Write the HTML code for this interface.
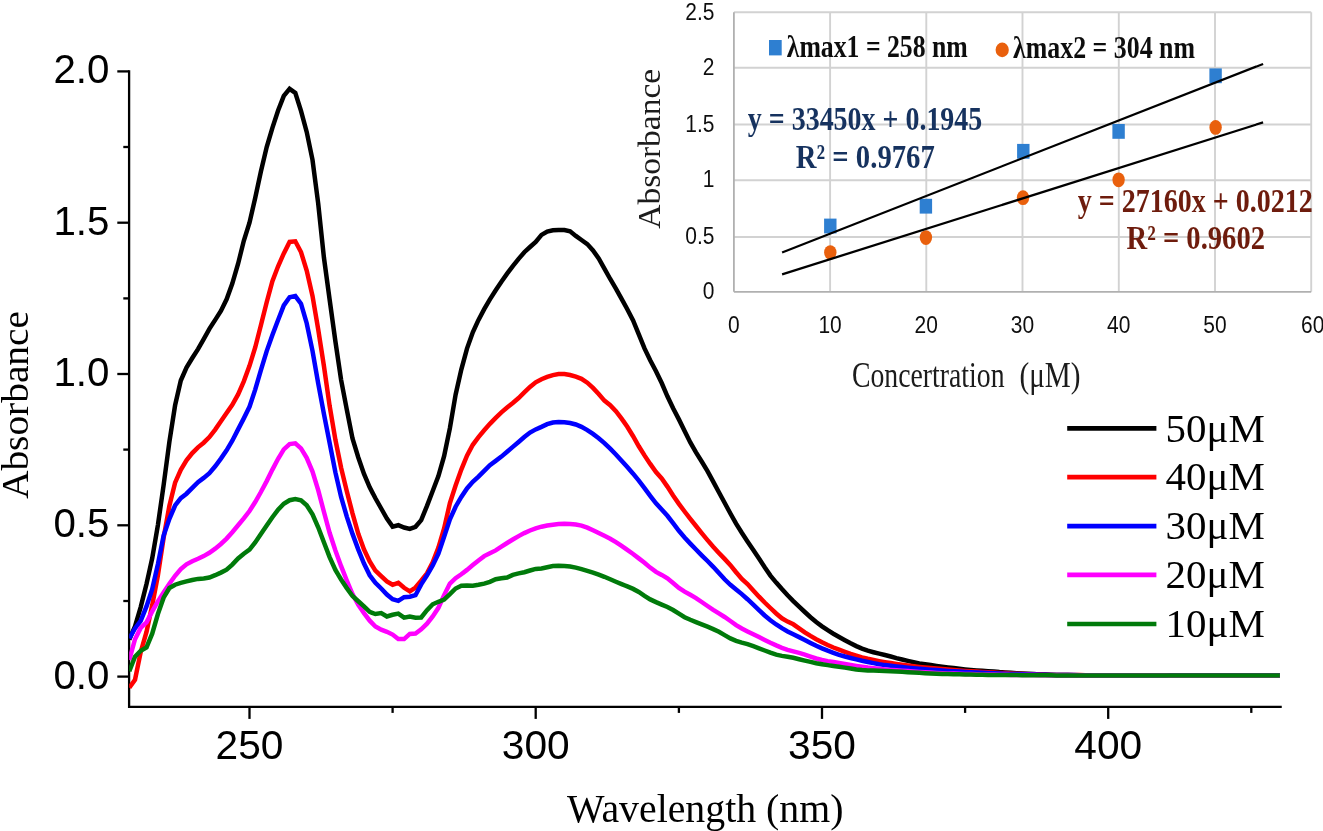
<!DOCTYPE html>
<html><head><meta charset="utf-8"><title>UV-Vis absorbance spectra</title>
<style>
html,body{margin:0;padding:0;background:#fff;}
svg{display:block;}
.sans{font-family:"Liberation Sans",Arial,sans-serif;}
.serif{font-family:"Liberation Serif","Times New Roman",serif;}
</style></head><body>
<svg width="1323" height="831" viewBox="0 0 1323 831">
<rect width="1323" height="831" fill="#fff"/>

<defs><filter id="soft" x="-2%" y="-2%" width="104%" height="104%"><feGaussianBlur stdDeviation="0.55"/></filter></defs>
<g id="inset" filter="url(#soft)">
<line x1="733.9" x2="1311.2" y1="237.0" y2="237.0" stroke="#d2d2d2" stroke-width="1.9"/>
<line x1="733.9" x2="1311.2" y1="180.3" y2="180.3" stroke="#d2d2d2" stroke-width="1.9"/>
<line x1="733.9" x2="1311.2" y1="124.5" y2="124.5" stroke="#d2d2d2" stroke-width="1.9"/>
<line x1="733.9" x2="1311.2" y1="67.7" y2="67.7" stroke="#d2d2d2" stroke-width="1.9"/>
<line x1="733.9" x2="1311.2" y1="12.3" y2="12.3" stroke="#d2d2d2" stroke-width="1.9"/>
<line x1="830.1" x2="830.1" y1="12.3" y2="291.8" stroke="#d2d2d2" stroke-width="1.9"/>
<line x1="926.3" x2="926.3" y1="12.3" y2="291.8" stroke="#d2d2d2" stroke-width="1.9"/>
<line x1="1022.5" x2="1022.5" y1="12.3" y2="291.8" stroke="#d2d2d2" stroke-width="1.9"/>
<line x1="1118.8" x2="1118.8" y1="12.3" y2="291.8" stroke="#d2d2d2" stroke-width="1.9"/>
<line x1="1215.0" x2="1215.0" y1="12.3" y2="291.8" stroke="#d2d2d2" stroke-width="1.9"/>
<line x1="1311.2" x2="1311.2" y1="12.3" y2="291.8" stroke="#d2d2d2" stroke-width="1.9"/>
<line x1="733.9" x2="733.9" y1="12.3" y2="291.8" stroke="#b0b0b0" stroke-width="1.8"/>
<line x1="733.9" x2="1311.2" y1="291.8" y2="291.8" stroke="#b0b0b0" stroke-width="1.8"/>
<text class="sans" x="714.5" y="299.0" font-size="24.4" text-anchor="end" fill="#111" transform="translate(714.5,0) scale(0.86,1) translate(-714.5,0)">0</text>
<text class="sans" x="714.5" y="244.2" font-size="24.4" text-anchor="end" fill="#111" transform="translate(714.5,0) scale(0.86,1) translate(-714.5,0)">0.5</text>
<text class="sans" x="714.5" y="187.5" font-size="24.4" text-anchor="end" fill="#111" transform="translate(714.5,0) scale(0.86,1) translate(-714.5,0)">1</text>
<text class="sans" x="714.5" y="131.7" font-size="24.4" text-anchor="end" fill="#111" transform="translate(714.5,0) scale(0.86,1) translate(-714.5,0)">1.5</text>
<text class="sans" x="714.5" y="74.9" font-size="24.4" text-anchor="end" fill="#111" transform="translate(714.5,0) scale(0.86,1) translate(-714.5,0)">2</text>
<text class="sans" x="714.5" y="19.5" font-size="24.4" text-anchor="end" fill="#111" transform="translate(714.5,0) scale(0.86,1) translate(-714.5,0)">2.5</text>
<text class="sans" x="733.9" y="332.6" font-size="24.4" text-anchor="middle" fill="#111" transform="translate(733.9,0) scale(0.86,1) translate(-733.9,0)">0</text>
<text class="sans" x="830.1" y="332.6" font-size="24.4" text-anchor="middle" fill="#111" transform="translate(830.1,0) scale(0.86,1) translate(-830.1,0)">10</text>
<text class="sans" x="926.3" y="332.6" font-size="24.4" text-anchor="middle" fill="#111" transform="translate(926.3,0) scale(0.86,1) translate(-926.3,0)">20</text>
<text class="sans" x="1022.5" y="332.6" font-size="24.4" text-anchor="middle" fill="#111" transform="translate(1022.5,0) scale(0.86,1) translate(-1022.5,0)">30</text>
<text class="sans" x="1118.8" y="332.6" font-size="24.4" text-anchor="middle" fill="#111" transform="translate(1118.8,0) scale(0.86,1) translate(-1118.8,0)">40</text>
<text class="sans" x="1215.0" y="332.6" font-size="24.4" text-anchor="middle" fill="#111" transform="translate(1215.0,0) scale(0.86,1) translate(-1215.0,0)">50</text>
<text class="sans" x="1312.7" y="332.6" font-size="24.4" text-anchor="middle" fill="#111" transform="translate(1312.7,0) scale(0.86,1) translate(-1312.7,0)">60</text>
<rect x="824.1" y="218.6" width="12.4" height="14.8" fill="#2e7fd1"/>
<rect x="919.7" y="198.8" width="12.4" height="14.8" fill="#2e7fd1"/>
<rect x="1017.1" y="143.9" width="12.4" height="14.8" fill="#2e7fd1"/>
<rect x="1112.4" y="124.0" width="12.4" height="14.8" fill="#2e7fd1"/>
<rect x="1209.4" y="68.4" width="12.4" height="14.8" fill="#2e7fd1"/>
<ellipse cx="830.3" cy="252.6" rx="6.2" ry="7.4" fill="#e9600c"/>
<ellipse cx="925.9" cy="237.6" rx="6.2" ry="7.4" fill="#e9600c"/>
<ellipse cx="1023.0" cy="197.7" rx="6.2" ry="7.4" fill="#e9600c"/>
<ellipse cx="1118.6" cy="179.8" rx="6.2" ry="7.4" fill="#e9600c"/>
<ellipse cx="1215.6" cy="127.4" rx="6.2" ry="7.4" fill="#e9600c"/>
<line x1="782.1" y1="252.4" x2="1263.1" y2="63.9" stroke="#000" stroke-width="2.2"/>
<line x1="782.1" y1="274.4" x2="1263.1" y2="122.4" stroke="#000" stroke-width="2.2"/>
<rect x="769" y="40" width="12.7" height="15.4" fill="#2e7fd1"/>
<ellipse cx="1002.2" cy="49.9" rx="6.6" ry="7.3" fill="#e9600c"/>
<text class="serif" x="786.8" y="57.3" font-size="32.5" font-weight="bold" fill="#111" textLength="181" lengthAdjust="spacingAndGlyphs">λmax1 = 258 nm</text>
<text class="serif" x="1013" y="57.6" font-size="32.5" font-weight="bold" fill="#111" textLength="182" lengthAdjust="spacingAndGlyphs">λmax2 = 304 nm</text>
<text class="serif" x="747.8" y="130.3" font-size="33" font-weight="bold" fill="#17335f" textLength="234.5" lengthAdjust="spacingAndGlyphs">y = 33450x + 0.1945</text>
<text class="serif" x="795.8" y="167.5" font-size="33" font-weight="bold" fill="#17335f" textLength="139" lengthAdjust="spacingAndGlyphs">R² = 0.9767</text>
<text class="serif" x="1077.8" y="211.7" font-size="33" font-weight="bold" fill="#6e1d0c" textLength="235" lengthAdjust="spacingAndGlyphs">y = 27160x + 0.0212</text>
<text class="serif" x="1126.5" y="249" font-size="33" font-weight="bold" fill="#6e1d0c" textLength="138.5" lengthAdjust="spacingAndGlyphs">R² = 0.9602</text>
<text class="serif" x="852" y="387.2" font-size="36" fill="#1a1a1a" textLength="152.5" lengthAdjust="spacingAndGlyphs">Concertration</text>
<text class="serif" x="1019.5" y="387.2" font-size="36" fill="#1a1a1a" textLength="61" lengthAdjust="spacingAndGlyphs">(μM)</text>
<text class="serif" font-size="31.5" fill="#1a1a1a" textLength="160" lengthAdjust="spacingAndGlyphs" transform="translate(660,228.8) rotate(-90)">Absorbance</text>
</g>
<g id="axes" stroke="#000" stroke-width="2.3" fill="none">
<path d="M129.1,71.4 V706.9 H1280.6" stroke-linecap="square"/>
<line x1="117.3" x2="129.1" y1="676.6" y2="676.6"/>
<line x1="123.3" x2="129.1" y1="601.0" y2="601.0"/>
<line x1="117.3" x2="129.1" y1="525.3" y2="525.3"/>
<line x1="123.3" x2="129.1" y1="449.6" y2="449.6"/>
<line x1="117.3" x2="129.1" y1="374.0" y2="374.0"/>
<line x1="123.3" x2="129.1" y1="298.4" y2="298.4"/>
<line x1="117.3" x2="129.1" y1="222.7" y2="222.7"/>
<line x1="123.3" x2="129.1" y1="147.0" y2="147.0"/>
<line x1="117.3" x2="129.1" y1="71.4" y2="71.4"/>
<line x1="249.5" x2="249.5" y1="706.9" y2="718.9"/>
<line x1="535.7" x2="535.7" y1="706.9" y2="718.9"/>
<line x1="822.0" x2="822.0" y1="706.9" y2="718.9"/>
<line x1="1108.2" x2="1108.2" y1="706.9" y2="718.9"/>
<line x1="392.6" x2="392.6" y1="706.9" y2="712.9"/>
<line x1="678.9" x2="678.9" y1="706.9" y2="712.9"/>
<line x1="965.1" x2="965.1" y1="706.9" y2="712.9"/>
<line x1="1251.3" x2="1251.3" y1="706.9" y2="712.9"/>
</g>
<g class="sans" font-size="40.3" fill="#000">
<text transform="translate(109.4,688.6) scale(1,1.025)" text-anchor="end">0.0</text>
<text transform="translate(109.4,537.3) scale(1,1.025)" text-anchor="end">0.5</text>
<text transform="translate(109.4,386.0) scale(1,1.025)" text-anchor="end">1.0</text>
<text transform="translate(109.4,234.7) scale(1,1.025)" text-anchor="end">1.5</text>
<text transform="translate(109.4,83.4) scale(1,1.025)" text-anchor="end">2.0</text>
<text transform="translate(249.5,759) scale(1.01,1.025)" text-anchor="middle">250</text>
<text transform="translate(535.7,759) scale(1.01,1.025)" text-anchor="middle">300</text>
<text transform="translate(822.0,759) scale(1.01,1.025)" text-anchor="middle">350</text>
<text transform="translate(1108.2,759) scale(1.01,1.025)" text-anchor="middle">400</text>
</g>
<text class="serif" x="567" y="821.8" font-size="39" fill="#000" textLength="276.5" lengthAdjust="spacingAndGlyphs">Wavelength (nm)</text>
<text class="serif" font-size="38.5" fill="#000" textLength="188" lengthAdjust="spacingAndGlyphs" transform="translate(27.8,499) rotate(-90)">Absorbance</text>
<clipPath id="plotclip"><rect x="129.2" y="60" width="1152" height="640"/></clipPath>
<g id="curves" clip-path="url(#plotclip)" fill="none" stroke-width="4.5" stroke-linejoin="miter" stroke-miterlimit="3" stroke-linecap="butt">
<path d="M129.3,639.5 L135.0,626.3 L140.7,607.1 L146.5,584.1 L152.2,558.3 L157.9,525.1 L163.6,485.2 L169.4,441.8 L175.1,405.3 L180.8,380.5 L186.5,367.5 L192.3,358.0 L198.0,349.1 L203.7,339.1 L209.4,328.9 L215.2,319.9 L220.9,310.9 L226.6,299.3 L232.3,283.6 L238.1,263.7 L243.8,240.8 L249.5,222.7 L255.2,197.9 L260.9,171.6 L266.7,147.0 L272.4,127.9 L278.1,110.5 L283.8,95.9 L289.6,88.8 L295.3,92.9 L301.0,110.9 L306.7,131.9 L312.5,159.9 L318.2,203.5 L323.9,257.4 L329.6,299.4 L335.4,341.4 L341.1,379.8 L346.8,409.7 L352.5,438.5 L358.3,457.5 L364.0,473.9 L369.7,487.3 L375.4,498.3 L381.2,508.5 L386.9,518.5 L392.6,526.6 L398.3,525.2 L404.1,527.5 L409.8,528.9 L415.5,526.8 L421.2,520.1 L427.0,505.9 L432.7,491.0 L438.4,476.1 L444.1,456.2 L449.9,428.2 L455.6,394.7 L461.3,369.6 L467.0,348.6 L472.8,332.3 L478.5,319.9 L484.2,309.2 L489.9,299.4 L495.7,290.2 L501.4,281.7 L507.1,273.7 L512.8,266.1 L518.6,258.9 L524.3,252.2 L530.0,247.0 L535.7,242.0 L541.5,234.9 L547.2,231.5 L552.9,230.3 L558.6,230.0 L564.4,230.1 L570.1,231.3 L575.8,235.9 L581.5,240.0 L587.3,244.1 L593.0,250.4 L598.7,258.4 L604.4,268.6 L610.2,279.0 L615.9,288.6 L621.6,298.8 L627.3,309.2 L633.1,320.5 L638.8,334.3 L644.5,348.4 L650.2,360.3 L656.0,371.3 L661.7,383.0 L667.4,396.3 L673.1,408.2 L678.9,419.4 L684.6,431.0 L690.3,442.4 L696.0,452.4 L701.7,461.5 L707.5,471.2 L713.2,481.6 L718.9,492.2 L724.6,502.8 L730.4,513.5 L736.1,523.6 L741.8,532.8 L747.5,541.5 L753.3,550.1 L759.0,558.5 L764.7,567.3 L770.4,575.6 L776.2,582.6 L781.9,589.1 L787.6,595.3 L793.3,601.1 L799.1,606.7 L804.8,612.0 L810.5,617.2 L816.2,622.0 L822.0,626.3 L827.7,630.2 L833.4,633.7 L839.1,637.0 L844.9,640.2 L850.6,643.3 L856.3,646.1 L862.0,648.6 L867.8,650.7 L873.5,652.2 L879.2,653.6 L884.9,655.0 L890.7,656.5 L896.4,658.1 L902.1,659.5 L907.8,660.9 L913.6,662.2 L919.3,663.4 L925.0,664.3 L930.7,665.1 L936.5,665.9 L942.2,666.7 L947.9,667.4 L953.6,668.1 L959.4,668.8 L965.1,669.4 L970.8,669.9 L976.5,670.4 L982.3,670.8 L988.0,671.2 L993.7,671.6 L999.4,672.1 L1005.2,672.4 L1010.9,672.8 L1016.6,673.2 L1022.3,673.5 L1028.1,673.8 L1033.8,674.1 L1039.5,674.4 L1045.2,674.6 L1051.0,674.7 L1056.7,674.9 L1062.4,675.0 L1068.1,675.1 L1073.9,675.2 L1079.6,675.3 L1085.3,675.4 L1091.0,675.5 L1096.8,675.5 L1102.5,675.6 L1108.2,675.6 L1113.9,675.6 L1119.6,675.6 L1125.4,675.6 L1131.1,675.6 L1136.8,675.6 L1142.5,675.7 L1148.3,675.7 L1154.0,675.7 L1159.7,675.7 L1165.4,675.7 L1171.2,675.7 L1176.9,675.7 L1182.6,675.7 L1188.3,675.7 L1194.1,675.7 L1199.8,675.6 L1205.5,675.6 L1211.2,675.6 L1217.0,675.6 L1222.7,675.6 L1228.4,675.6 L1234.1,675.6 L1239.9,675.6 L1245.6,675.6 L1251.3,675.6 L1257.0,675.6 L1262.8,675.6 L1268.5,675.6 L1274.2,675.6 L1279.9,675.6" stroke="#000000"/>
<path d="M129.3,687.6 L135.0,679.8 L140.7,652.0 L146.5,631.9 L152.2,605.3 L157.9,575.3 L163.6,537.9 L169.4,505.8 L175.1,482.7 L180.8,469.9 L186.5,460.4 L192.3,453.1 L198.0,447.3 L203.7,442.7 L209.4,437.1 L215.2,429.6 L220.9,421.3 L226.6,413.0 L232.3,404.9 L238.1,394.4 L243.8,381.3 L249.5,365.8 L255.2,347.5 L260.9,325.2 L266.7,302.2 L272.4,281.2 L278.1,266.3 L283.8,253.4 L289.6,241.9 L295.3,241.3 L301.0,252.0 L306.7,270.6 L312.5,295.9 L318.2,329.4 L323.9,365.8 L329.6,405.7 L335.4,439.8 L341.1,467.8 L346.8,491.2 L352.5,513.3 L358.3,533.8 L364.0,549.4 L369.7,561.5 L375.4,570.6 L381.2,576.2 L386.9,581.5 L392.6,584.8 L398.3,582.9 L404.1,587.8 L409.8,591.4 L415.5,587.5 L421.2,580.6 L427.0,573.3 L432.7,562.3 L438.4,547.6 L444.1,528.4 L449.9,503.1 L455.6,485.6 L461.3,469.6 L467.0,455.6 L472.8,444.8 L478.5,437.1 L484.2,430.3 L489.9,423.8 L495.7,417.9 L501.4,412.4 L507.1,407.5 L512.8,403.0 L518.6,398.0 L524.3,392.4 L530.0,386.9 L535.7,382.3 L541.5,379.2 L547.2,376.9 L552.9,375.1 L558.6,374.1 L564.4,374.0 L570.1,375.0 L575.8,376.7 L581.5,378.8 L587.3,382.7 L593.0,387.9 L598.7,394.0 L604.4,400.6 L610.2,405.1 L615.9,411.2 L621.6,418.6 L627.3,426.8 L633.1,436.2 L638.8,446.3 L644.5,455.4 L650.2,463.9 L656.0,472.0 L661.7,478.4 L667.4,486.6 L673.1,495.5 L678.9,503.9 L684.6,511.5 L690.3,518.8 L696.0,526.0 L701.7,533.1 L707.5,540.1 L713.2,546.7 L718.9,552.9 L724.6,558.9 L730.4,565.1 L736.1,572.2 L741.8,578.9 L747.5,584.1 L753.3,590.5 L759.0,596.7 L764.7,602.5 L770.4,608.0 L776.2,613.5 L781.9,618.3 L787.6,621.6 L793.3,624.3 L799.1,628.3 L804.8,632.4 L810.5,635.9 L816.2,639.2 L822.0,642.3 L827.7,645.0 L833.4,647.5 L839.1,649.7 L844.9,651.8 L850.6,653.9 L856.3,655.7 L862.0,657.4 L867.8,658.8 L873.5,660.0 L879.2,661.1 L884.9,662.1 L890.7,663.0 L896.4,663.9 L902.1,664.7 L907.8,665.4 L913.6,666.2 L919.3,666.9 L925.0,667.5 L930.7,668.0 L936.5,668.6 L942.2,669.1 L947.9,669.6 L953.6,670.0 L959.4,670.5 L965.1,670.9 L970.8,671.3 L976.5,671.6 L982.3,672.0 L988.0,672.3 L993.7,672.6 L999.4,672.9 L1005.2,673.1 L1010.9,673.4 L1016.6,673.7 L1022.3,673.9 L1028.1,674.2 L1033.8,674.4 L1039.5,674.6 L1045.2,674.7 L1051.0,674.9 L1056.7,675.0 L1062.4,675.0 L1068.1,675.1 L1073.9,675.1 L1079.6,675.1 L1085.3,675.2 L1091.0,675.2 L1096.8,675.2 L1102.5,675.2 L1108.2,675.2 L1113.9,675.3 L1119.6,675.3 L1125.4,675.3 L1131.1,675.3 L1136.8,675.3 L1142.5,675.3 L1148.3,675.3 L1154.0,675.4 L1159.7,675.4 L1165.4,675.4 L1171.2,675.4 L1176.9,675.4 L1182.6,675.4 L1188.3,675.4 L1194.1,675.4 L1199.8,675.4 L1205.5,675.5 L1211.2,675.5 L1217.0,675.5 L1222.7,675.5 L1228.4,675.5 L1234.1,675.5 L1239.9,675.5 L1245.6,675.5 L1251.3,675.5 L1257.0,675.5 L1262.8,675.6 L1268.5,675.6 L1274.2,675.6 L1279.9,675.6" stroke="#ff0000"/>
<path d="M129.3,638.5 L135.0,628.5 L140.7,620.9 L146.5,606.4 L152.2,589.2 L157.9,564.2 L163.6,535.7 L169.4,518.8 L175.1,505.5 L180.8,498.1 L186.5,493.7 L192.3,487.9 L198.0,482.1 L203.7,477.9 L209.4,473.2 L215.2,466.3 L220.9,458.6 L226.6,450.4 L232.3,440.7 L238.1,429.4 L243.8,418.4 L249.5,406.8 L255.2,389.6 L260.9,370.2 L266.7,351.1 L272.4,335.1 L278.1,320.0 L283.8,305.4 L289.6,297.2 L295.3,296.1 L301.0,303.7 L306.7,323.2 L312.5,350.9 L318.2,383.3 L323.9,413.8 L329.6,442.8 L335.4,472.4 L341.1,496.9 L346.8,516.6 L352.5,533.9 L358.3,549.6 L364.0,563.5 L369.7,575.3 L375.4,582.8 L381.2,588.5 L386.9,594.6 L392.6,599.2 L398.3,600.9 L404.1,597.2 L409.8,596.7 L415.5,595.2 L421.2,584.4 L427.0,575.3 L432.7,565.4 L438.4,553.6 L444.1,536.8 L449.9,519.3 L455.6,506.7 L461.3,496.9 L467.0,488.4 L472.8,481.8 L478.5,476.6 L484.2,470.8 L489.9,465.2 L495.7,460.9 L501.4,456.6 L507.1,451.8 L512.8,446.9 L518.6,442.0 L524.3,437.1 L530.0,432.6 L535.7,429.4 L541.5,426.9 L547.2,424.2 L552.9,422.5 L558.6,422.0 L564.4,422.2 L570.1,423.0 L575.8,424.5 L581.5,426.9 L587.3,430.1 L593.0,433.9 L598.7,438.2 L604.4,443.1 L610.2,448.7 L615.9,454.5 L621.6,460.7 L627.3,467.1 L633.1,473.7 L638.8,480.7 L644.5,488.1 L650.2,495.9 L656.0,503.3 L661.7,509.6 L667.4,515.8 L673.1,523.2 L678.9,530.8 L684.6,537.5 L690.3,543.6 L696.0,549.5 L701.7,555.3 L707.5,561.0 L713.2,566.8 L718.9,573.0 L724.6,579.3 L730.4,584.8 L736.1,589.4 L741.8,594.1 L747.5,599.2 L753.3,604.7 L759.0,610.1 L764.7,615.5 L770.4,620.3 L776.2,624.5 L781.9,628.2 L787.6,631.5 L793.3,634.3 L799.1,637.1 L804.8,639.9 L810.5,642.9 L816.2,645.8 L822.0,648.4 L827.7,650.7 L833.4,652.8 L839.1,654.8 L844.9,656.5 L850.6,658.0 L856.3,659.4 L862.0,660.8 L867.8,662.0 L873.5,663.1 L879.2,664.2 L884.9,665.1 L890.7,665.8 L896.4,666.5 L902.1,667.1 L907.8,667.7 L913.6,668.2 L919.3,668.8 L925.0,669.3 L930.7,669.7 L936.5,670.1 L942.2,670.5 L947.9,670.9 L953.6,671.2 L959.4,671.6 L965.1,671.9 L970.8,672.2 L976.5,672.5 L982.3,672.7 L988.0,673.0 L993.7,673.2 L999.4,673.5 L1005.2,673.8 L1010.9,674.0 L1016.6,674.1 L1022.3,674.3 L1028.1,674.4 L1033.8,674.5 L1039.5,674.7 L1045.2,674.8 L1051.0,674.9 L1056.7,675.0 L1062.4,675.0 L1068.1,675.1 L1073.9,675.1 L1079.6,675.2 L1085.3,675.2 L1091.0,675.2 L1096.8,675.2 L1102.5,675.3 L1108.2,675.3 L1113.9,675.3 L1119.6,675.3 L1125.4,675.3 L1131.1,675.3 L1136.8,675.4 L1142.5,675.4 L1148.3,675.4 L1154.0,675.4 L1159.7,675.4 L1165.4,675.4 L1171.2,675.4 L1176.9,675.4 L1182.6,675.4 L1188.3,675.5 L1194.1,675.5 L1199.8,675.5 L1205.5,675.5 L1211.2,675.5 L1217.0,675.5 L1222.7,675.5 L1228.4,675.5 L1234.1,675.5 L1239.9,675.5 L1245.6,675.5 L1251.3,675.5 L1257.0,675.6 L1262.8,675.6 L1268.5,675.6 L1274.2,675.6 L1279.9,675.6" stroke="#0000ff"/>
<path d="M129.3,660.0 L135.0,639.2 L140.7,627.9 L146.5,622.4 L152.2,611.4 L157.9,601.3 L163.6,592.4 L169.4,583.8 L175.1,575.8 L180.8,569.1 L186.5,564.3 L192.3,561.3 L198.0,558.8 L203.7,556.1 L209.4,552.8 L215.2,548.7 L220.9,544.0 L226.6,538.6 L232.3,532.2 L238.1,525.2 L243.8,518.4 L249.5,511.0 L255.2,502.0 L260.9,492.0 L266.7,481.1 L272.4,469.6 L278.1,458.8 L283.8,449.4 L289.6,444.1 L295.3,443.3 L301.0,448.4 L306.7,457.8 L312.5,471.6 L318.2,490.1 L323.9,511.8 L329.6,532.8 L335.4,550.5 L341.1,566.2 L346.8,580.5 L352.5,594.1 L358.3,604.9 L364.0,613.1 L369.7,620.7 L375.4,626.5 L381.2,629.7 L386.9,631.8 L392.6,634.6 L398.3,639.1 L404.1,639.1 L409.8,633.9 L415.5,633.5 L421.2,629.3 L427.0,623.7 L432.7,616.4 L438.4,607.8 L444.1,595.1 L449.9,583.6 L455.6,578.2 L461.3,574.3 L467.0,569.9 L472.8,565.1 L478.5,560.4 L484.2,556.1 L489.9,553.3 L495.7,550.4 L501.4,546.7 L507.1,543.0 L512.8,539.5 L518.6,536.1 L524.3,533.1 L530.0,530.5 L535.7,528.3 L541.5,526.7 L547.2,525.5 L552.9,524.7 L558.6,524.1 L564.4,523.8 L570.1,524.0 L575.8,524.5 L581.5,525.6 L587.3,527.6 L593.0,530.3 L598.7,533.1 L604.4,535.8 L610.2,538.7 L615.9,542.1 L621.6,545.9 L627.3,549.9 L633.1,554.0 L638.8,558.4 L644.5,562.8 L650.2,567.6 L656.0,571.9 L661.7,574.9 L667.4,578.3 L673.1,583.0 L678.9,587.9 L684.6,591.6 L690.3,594.8 L696.0,598.1 L701.7,602.0 L707.5,606.0 L713.2,609.8 L718.9,613.4 L724.6,617.0 L730.4,621.0 L736.1,625.1 L741.8,628.5 L747.5,631.4 L753.3,634.2 L759.0,637.1 L764.7,640.0 L770.4,642.8 L776.2,645.4 L781.9,647.8 L787.6,649.8 L793.3,651.4 L799.1,652.9 L804.8,654.6 L810.5,656.6 L816.2,658.5 L822.0,660.0 L827.7,661.1 L833.4,662.0 L839.1,662.9 L844.9,663.9 L850.6,664.9 L856.3,665.9 L862.0,666.8 L867.8,667.6 L873.5,668.2 L879.2,668.8 L884.9,669.4 L890.7,669.9 L896.4,670.3 L902.1,670.7 L907.8,671.1 L913.6,671.5 L919.3,671.9 L925.0,672.2 L930.7,672.6 L936.5,672.9 L942.2,673.2 L947.9,673.4 L953.6,673.6 L959.4,673.7 L965.1,673.9 L970.8,674.1 L976.5,674.3 L982.3,674.4 L988.0,674.6 L993.7,674.6 L999.4,674.7 L1005.2,674.8 L1010.9,674.9 L1016.6,674.9 L1022.3,675.0 L1028.1,675.1 L1033.8,675.1 L1039.5,675.2 L1045.2,675.2 L1051.0,675.3 L1056.7,675.3 L1062.4,675.4 L1068.1,675.4 L1073.9,675.4 L1079.6,675.4 L1085.3,675.5 L1091.0,675.5 L1096.8,675.5 L1102.5,675.5 L1108.2,675.5 L1113.9,675.5 L1119.6,675.6 L1125.4,675.6 L1131.1,675.6 L1136.8,675.6 L1142.5,675.6 L1148.3,675.6 L1154.0,675.6 L1159.7,675.6 L1165.4,675.6 L1171.2,675.7 L1176.9,675.7 L1182.6,675.7 L1188.3,675.7 L1194.1,675.7 L1199.8,675.7 L1205.5,675.7 L1211.2,675.7 L1217.0,675.7 L1222.7,675.7 L1228.4,675.7 L1234.1,675.7 L1239.9,675.7 L1245.6,675.7 L1251.3,675.8 L1257.0,675.8 L1262.8,675.8 L1268.5,675.8 L1274.2,675.8 L1279.9,675.8" stroke="#ff00ff"/>
<path d="M129.3,671.3 L135.0,656.7 L140.7,650.8 L146.5,647.4 L152.2,633.7 L157.9,614.0 L163.6,597.7 L169.4,588.0 L175.1,584.7 L180.8,582.9 L186.5,581.4 L192.3,580.0 L198.0,578.9 L203.7,578.4 L209.4,577.6 L215.2,575.2 L220.9,572.6 L226.6,569.7 L232.3,564.6 L238.1,558.5 L243.8,553.7 L249.5,549.6 L255.2,542.5 L260.9,534.1 L266.7,525.5 L272.4,517.2 L278.1,509.6 L283.8,503.7 L289.6,500.2 L295.3,499.1 L301.0,500.3 L306.7,505.2 L312.5,514.3 L318.2,527.3 L323.9,542.3 L329.6,557.1 L335.4,569.9 L341.1,579.5 L346.8,588.1 L352.5,596.0 L358.3,601.2 L364.0,606.4 L369.7,611.9 L375.4,614.0 L381.2,613.0 L386.9,616.5 L392.6,614.8 L398.3,613.6 L404.1,617.7 L409.8,616.5 L415.5,617.7 L421.2,617.5 L427.0,610.2 L432.7,604.3 L438.4,601.8 L444.1,599.6 L449.9,594.2 L455.6,588.5 L461.3,585.7 L467.0,585.6 L472.8,585.7 L478.5,584.8 L484.2,583.6 L489.9,581.8 L495.7,579.2 L501.4,578.3 L507.1,577.5 L512.8,574.9 L518.6,573.4 L524.3,572.2 L530.0,570.5 L535.7,568.9 L541.5,568.4 L547.2,567.2 L552.9,566.1 L558.6,565.8 L564.4,565.9 L570.1,566.5 L575.8,567.6 L581.5,569.1 L587.3,570.8 L593.0,572.6 L598.7,574.6 L604.4,576.8 L610.2,579.3 L615.9,581.7 L621.6,584.1 L627.3,586.4 L633.1,588.9 L638.8,592.0 L644.5,595.8 L650.2,599.4 L656.0,602.1 L661.7,604.6 L667.4,607.0 L673.1,610.0 L678.9,613.7 L684.6,617.2 L690.3,619.8 L696.0,622.1 L701.7,624.4 L707.5,626.7 L713.2,629.1 L718.9,631.8 L724.6,635.1 L730.4,638.4 L736.1,640.8 L741.8,642.6 L747.5,644.2 L753.3,646.2 L759.0,648.3 L764.7,650.5 L770.4,652.7 L776.2,654.7 L781.9,655.9 L787.6,656.7 L793.3,657.8 L799.1,659.2 L804.8,660.6 L810.5,661.9 L816.2,663.2 L822.0,664.2 L827.7,665.1 L833.4,665.9 L839.1,666.7 L844.9,667.6 L850.6,668.5 L856.3,669.4 L862.0,670.0 L867.8,670.4 L873.5,670.6 L879.2,670.7 L884.9,670.9 L890.7,671.2 L896.4,671.5 L902.1,671.8 L907.8,672.2 L913.6,672.5 L919.3,672.8 L925.0,673.2 L930.7,673.5 L936.5,673.7 L942.2,674.0 L947.9,674.1 L953.6,674.2 L959.4,674.3 L965.1,674.4 L970.8,674.5 L976.5,674.7 L982.3,674.8 L988.0,674.9 L993.7,674.9 L999.4,675.0 L1005.2,675.0 L1010.9,675.1 L1016.6,675.1 L1022.3,675.2 L1028.1,675.2 L1033.8,675.2 L1039.5,675.3 L1045.2,675.3 L1051.0,675.3 L1056.7,675.4 L1062.4,675.4 L1068.1,675.4 L1073.9,675.4 L1079.6,675.4 L1085.3,675.4 L1091.0,675.4 L1096.8,675.5 L1102.5,675.5 L1108.2,675.5 L1113.9,675.5 L1119.6,675.5 L1125.4,675.5 L1131.1,675.5 L1136.8,675.5 L1142.5,675.5 L1148.3,675.5 L1154.0,675.5 L1159.7,675.5 L1165.4,675.5 L1171.2,675.5 L1176.9,675.5 L1182.6,675.5 L1188.3,675.5 L1194.1,675.5 L1199.8,675.6 L1205.5,675.6 L1211.2,675.6 L1217.0,675.6 L1222.7,675.6 L1228.4,675.6 L1234.1,675.6 L1239.9,675.6 L1245.6,675.6 L1251.3,675.6 L1257.0,675.6 L1262.8,675.6 L1268.5,675.6 L1274.2,675.6 L1279.9,675.6" stroke="#007a0a"/>
</g>
<g id="legend">
<line x1="1067.2" x2="1156.4" y1="428.4" y2="428.4" stroke="#000000" stroke-width="4.7"/>
<text class="serif" x="1165.6" y="441.7" font-size="40" fill="#000" textLength="99.2" lengthAdjust="spacingAndGlyphs">50μM</text>
<line x1="1067.2" x2="1156.4" y1="477.2" y2="477.2" stroke="#ff0000" stroke-width="4.7"/>
<text class="serif" x="1165.6" y="490.4" font-size="40" fill="#000" textLength="99.2" lengthAdjust="spacingAndGlyphs">40μM</text>
<line x1="1067.2" x2="1156.4" y1="526.2" y2="526.2" stroke="#0000ff" stroke-width="4.7"/>
<text class="serif" x="1165.6" y="539.3" font-size="40" fill="#000" textLength="99.2" lengthAdjust="spacingAndGlyphs">30μM</text>
<line x1="1067.2" x2="1156.4" y1="574.9" y2="574.9" stroke="#ff00ff" stroke-width="4.7"/>
<text class="serif" x="1165.6" y="588.1" font-size="40" fill="#000" textLength="99.2" lengthAdjust="spacingAndGlyphs">20μM</text>
<line x1="1067.2" x2="1156.4" y1="624.0" y2="624.0" stroke="#007a0a" stroke-width="4.7"/>
<text class="serif" x="1165.6" y="636.9" font-size="40" fill="#000" textLength="99.2" lengthAdjust="spacingAndGlyphs">10μM</text>
</g>
</svg></body></html>
